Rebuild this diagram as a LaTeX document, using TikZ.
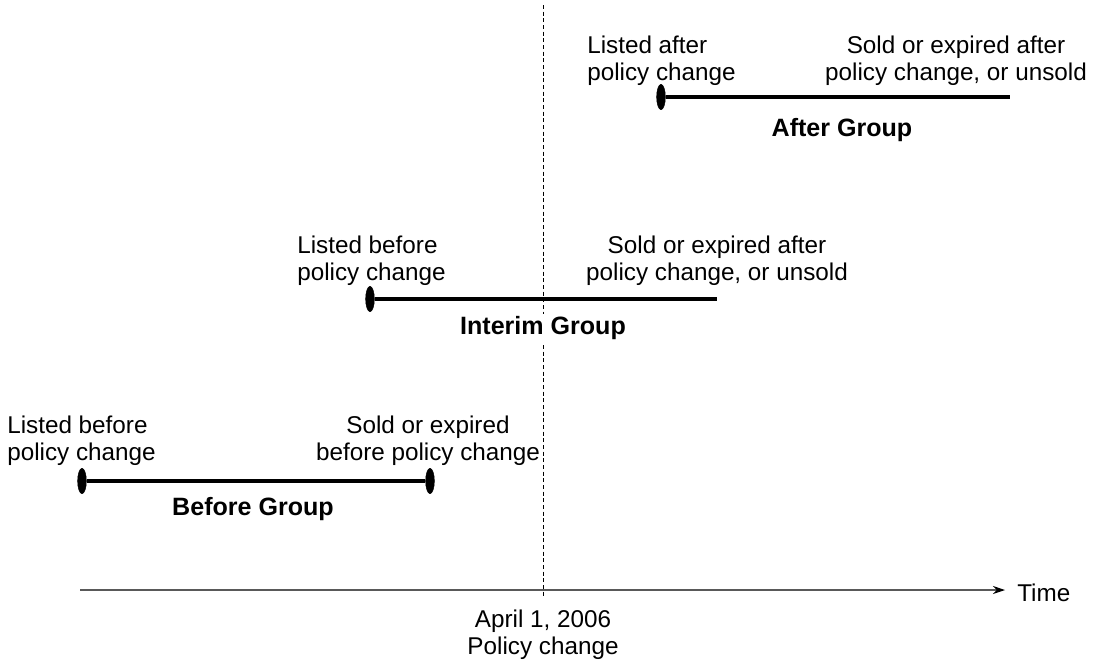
\documentclass[tikz,border=0pt]{standalone}
\usepackage{fontspec}
\setmainfont{Liberation Sans}
\usetikzlibrary{shapes.geometric,arrows.meta}

\tikzset{
  lbl/.style={font=\fontsize{18.2}{20}\selectfont, inner sep=0pt},
  grp/.style={font=\fontsize{18.8}{20}\selectfont\bfseries, fill=white, inner sep=1.5pt},
  endmark/.style={draw, ellipse, fill=black, minimum width=6.5pt, minimum height=19pt, inner sep=0pt},
  period/.style={line width=3pt}
}

\begin{document}
\begin{tikzpicture}[x=0.75pt,y=-0.75pt]
\useasboundingbox (0,0) rectangle (1117,662);

% policy change date
\coordinate (D0) at (543,5);
\coordinate (D1) at (543,597);
\draw[dashed, dash pattern=on 3pt off 2pt, line width=0.6pt] (D0) -- (D1);

% time axis
\coordinate (T0) at (80,590);
\coordinate (T1) at (1005,590);
\draw[black!65, line width=0.8pt, -{Stealth[black, length=9pt, width=6pt]}] (T0) -- (T1);
\node[lbl, anchor=west] (time) at (1017,593) {Time};
\node[lbl, align=center] (date) at (543,635) {April 1, 2006\\Policy change};

% before group
\node[endmark] (BA) at (82,481) {};
\node[endmark] (BB) at (430,481) {};
\draw[period] (BA) -- (BB);
\node[lbl, align=left, anchor=west] (BL) at (7,440.5) {Listed before\\policy change};
\node[lbl, align=center] (BS) at (428,440.5) {Sold or expired\\before policy change};
\node[grp] (BG) at (253,509) {Before Group};

% interim group
\node[endmark] (IA) at (370,299) {};
\coordinate (IB) at (717,299);
\draw[period] (IA) -- (IB);
\node[lbl, align=left, anchor=west] (IL) at (297,261) {Listed before\\policy change};
\node[lbl, align=center] (IS) at (717,261) {Sold or expired after\\policy change, or unsold};
\node[grp] (IG) at (543,328) {Interim Group};

% after group
\node[endmark] (AA) at (661,97) {};
\coordinate (AB) at (1010,97);
\draw[period] (AA) -- (AB);
\node[lbl, align=left, anchor=west] (AL) at (587,60.5) {Listed after\\policy change};
\node[lbl, align=center] (AS) at (956,60.5) {Sold or expired after\\policy change, or unsold};
\node[grp] (AG) at (842,130) {After Group};
\end{tikzpicture}
\end{document}
